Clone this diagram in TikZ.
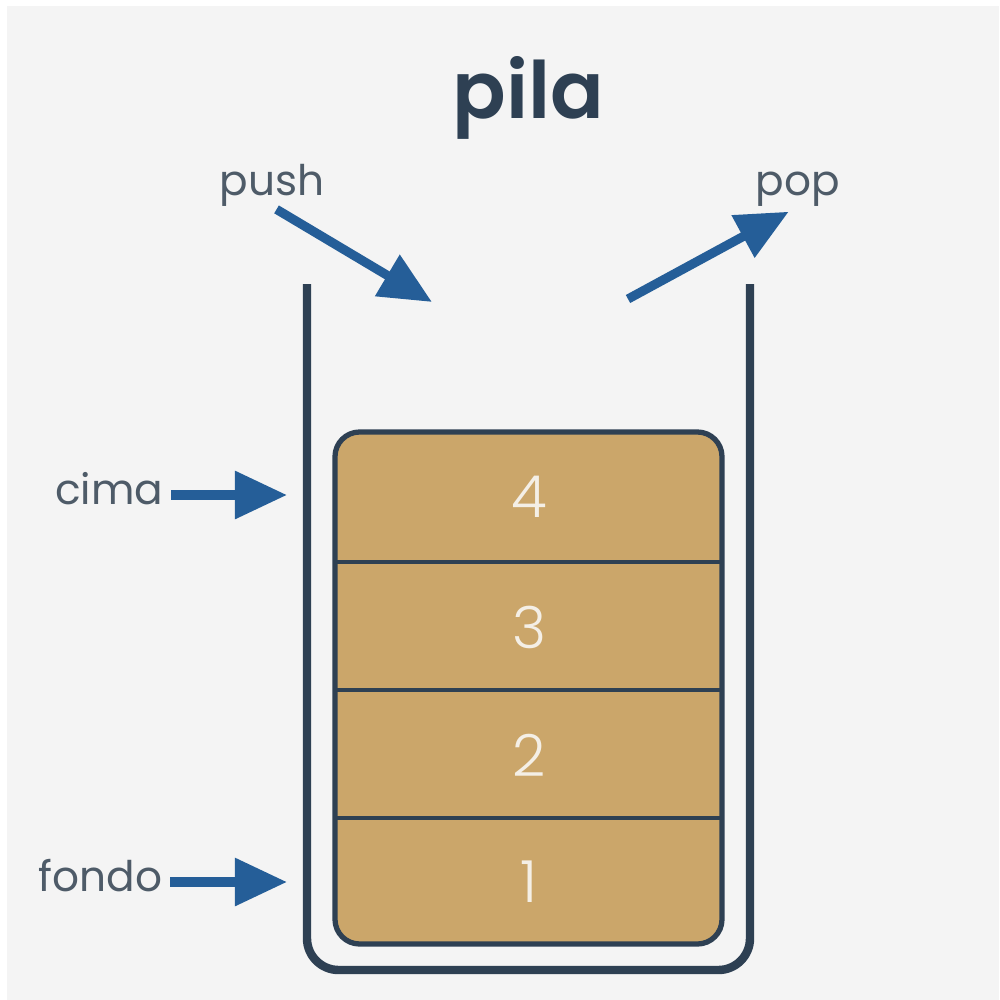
\documentclass[tikz,border=0pt]{standalone}
\usepackage{fontspec}
\setmainfont{Poppins}
\newfontfamily\thinfont{Poppins Light}
\newfontfamily\semifont{Poppins SemiBold}
\usetikzlibrary{arrows.meta}
\definecolor{ink}{HTML}{2E4053}
\definecolor{labgray}{HTML}{4E5B68}
\definecolor{arrblue}{HTML}{255E98}
\definecolor{boxtan}{HTML}{CBA66A}
\definecolor{numwhite}{HTML}{F4EFE6}
\definecolor{bggray}{HTML}{F4F4F4}

\begin{document}
\begin{tikzpicture}[x=0.01cm,y=-0.01cm,
lbl/.style={text=labgray, font=\fontsize{12}{14}\selectfont, inner sep=0},
num/.style={text=numwhite, font=\thinfont\fontsize{16.5}{18}\selectfont},
arr/.style={draw=arrblue, line width=2.6pt, -{Triangle[length=0.52cm,width=0.46cm]}}]
	\useasboundingbox (0,0) rectangle (999,1000);
	\fill[bggray] (7,6) rectangle (999,1000);
	\node[text=ink, font=\semifont\fontsize{22.5}{26}\selectfont, anchor=base] at (528,118) (title) {pila};
	% recipiente
	\draw[ink, line width=2.4pt, rounded corners=9pt] (307,284) -- (307,970) -- (750,970) -- (750,284);
	\draw[ink, fill=boxtan, line width=1.5pt, rounded corners=7pt] (335,432) rectangle (722,944);
	\foreach \y in {562,690,818}
		\draw[ink, line width=1.1pt] (335,\y) -- (722,\y);
	\foreach \n/\y in {4/497,3/627,2/755,1/882}
		\node[num] at (529,\y) (n\n) {\n};
	% etiquetas
	\node[lbl, anchor=mid east] at (164,495) (cima) {cima};
	\node[lbl, anchor=mid east] at (163,882) (fondo) {fondo};
	\node[lbl, anchor=base] at (272,195) (push) {push};
	\node[lbl, anchor=base] at (798,195) (pop) {pop};
	\coordinate (cimaend) at (287,495);
	\coordinate (fondoend) at (287,882);
	\coordinate (pushend) at (432,302);
	\coordinate (popout) at (628,299);
	\draw[arr, shorten <=2pt] (cima.mid east) -- (cimaend);
	\draw[arr, shorten <=2pt] (fondo.mid east) -- (fondoend);
	\draw[arr, shorten <=1.5pt] (push.south) -- (pushend);
	\draw[arr, shorten >=3pt] (popout) -- (pop.south);
\end{tikzpicture}
\end{document}
